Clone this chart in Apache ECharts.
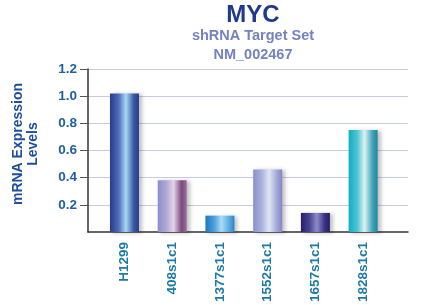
<!DOCTYPE html>
<html><head><meta charset="utf-8">
<script src="https://cdn.jsdelivr.net/npm/echarts@6/dist/echarts.min.js"></script>
<style>html,body{margin:0;padding:0;background:#fff}#c{width:421px;height:305px}</style>
</head><body><div id="c"></div>
<script>
var categories = ['H1299','408s1c1','1377s1c1','1552s1c1','1657s1c1','1828s1c1'];
var values = [1.02, 0.38, 0.12, 0.46, 0.14, 0.75];
var yTicks = [0.2, 0.4, 0.6, 0.8, 1.0, 1.2];
var barGradients = [
  ['#283c8c','#4e6cb8','#a8d8f4','#3a58a4','#263c8a'],
  ['#8a8ec8','#b0a8d4','#e4d4ea','#7a4a7c','#9a6c9c'],
  ['#1a78c4','#4aa0dc','#acdcf4','#5aaae0','#2a84cc'],
  ['#8890cc','#aab2dc','#e0e6f6','#a0a8d8','#8088c4'],
  ['#261e6c','#4a4494','#8c8cc8','#3a3286','#241c68'],
  ['#0eaec4','#50c4d4','#dcf2f2','#40a6b8','#20849c']
];
function grad(c){
  return new echarts.graphic.LinearGradient(0,0,1,0,[
    {offset:0,color:c[0]},{offset:0.3,color:c[1]},{offset:0.55,color:c[2]},{offset:0.82,color:c[3]},{offset:1,color:c[4]}]);
}
var FONT = 'Liberation Sans, Arial, sans-serif';
var chart = echarts.init(document.getElementById('c'), null, {renderer:'canvas'});
var data = values.map(function(v,i){return {value:v,itemStyle:{color:grad(barGradients[i])}};});
chart.setOption({
  animation:false,
  title:[
    {text:'MYC',left:248,top:-2,textAlign:'center',textStyle:{fontFamily:FONT,fontWeight:'bold',fontSize:24,color:'#1f3a8c'}},
    {text:'shRNA Target Set',left:248,top:23,textAlign:'center',textStyle:{fontFamily:FONT,fontWeight:'bold',fontSize:14.5,color:'#7482c2'}},
    {text:'NM_002467',left:248,top:42,textAlign:'center',textStyle:{fontFamily:FONT,fontWeight:'bold',fontSize:14.5,color:'#7482c2'}}
  ],
  graphic:[
    {type:'text',x:26,y:144,rotation:Math.PI/2,
      style:{text:'mRNA Expression\nLevels',fill:'#1f4e9c',font:'bold 14px '+FONT,textAlign:'center',textVerticalAlign:'middle',lineHeight:15}}
  ],
  grid:[
    {left:88,right:13,top:69,bottom:73,containLabel:false},
    {left:100.6,width:286.4,top:69,bottom:73,containLabel:false}
  ],
  xAxis:[
    {gridIndex:0,type:'value',min:0,max:1,show:true,axisLine:{show:true,lineStyle:{color:'#333',width:1.5}},axisTick:{show:false},axisLabel:{show:false},splitLine:{show:false}},
    {gridIndex:1,type:'category',data:categories,axisLine:{show:false},axisTick:{show:false},
      axisLabel:{rotate:90,margin:10,color:'#1c7aa8',fontFamily:FONT,fontWeight:'bold',fontSize:13.5}}
  ],
  yAxis:[
    {gridIndex:0,type:'value',min:0,max:1.2,interval:0.2,
      axisLine:{show:true,lineStyle:{color:'#333',width:1.5}},
      axisTick:{show:true,length:8,customValues:yTicks,lineStyle:{color:'#555'}},
      axisLabel:{color:'#1f5fa8',fontFamily:FONT,fontWeight:'bold',fontSize:13.5,margin:11,customValues:yTicks,
        formatter:function(v){return (+v).toFixed(1);}},
      splitLine:{show:true,lineStyle:{color:'#c6cbe8',width:1.2}}},
    {gridIndex:1,type:'value',min:0,max:1.2,show:false}
  ],
  series:[{type:'bar',xAxisIndex:1,yAxisIndex:1,barWidth:29,data:data,
    itemStyle:{shadowColor:'rgba(0,0,0,0.25)',shadowBlur:4,shadowOffsetX:3,shadowOffsetY:1}}]
});
</script></body></html>
